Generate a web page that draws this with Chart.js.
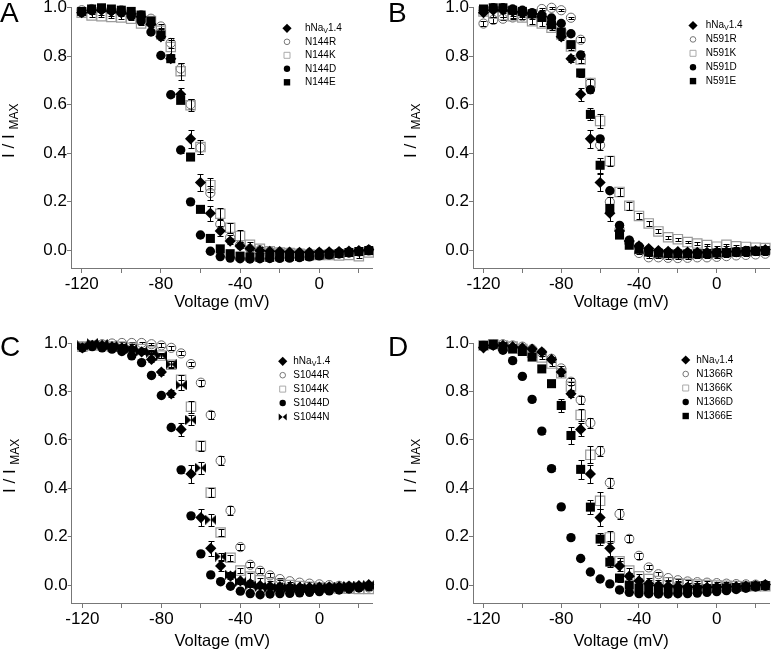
<!DOCTYPE html>
<html>
<head>
<meta charset="utf-8">
<script src="https://cdn.jsdelivr.net/npm/chart.js@4"></script>
<style>
  html, body { margin: 0; padding: 0; background: #fff; }
  #wrap { position: relative; width: 777px; height: 651px; overflow: hidden; }
  .panel { position: absolute; }
</style>
</head>
<body>
<div id="wrap">
  <div class="panel" style="left:0;top:0;width:388px;height:318px"><canvas id="cA"></canvas></div>
  <div class="panel" style="left:388px;top:0;width:389px;height:318px"><canvas id="cB"></canvas></div>
  <div class="panel" style="left:0;top:318px;width:388px;height:333px"><canvas id="cC"></canvas></div>
  <div class="panel" style="left:388px;top:318px;width:389px;height:333px"><canvas id="cD"></canvas></div>
</div>
<script>
// voltage steps (mV) shared by every series
const voltage = [-120,-115,-110,-105,-100,-95,-90,-85,-80,-75,-70,-65,-60,-55,-50,-45,-40,-35,-30,-25,-20,-15,-10,-5,0,5,10,15,20,25];
const xTickValues = [-120,-100,-80,-60,-40,-20,0,20];
const xTickLabels = ['-120','','-80','','-40','','0',''];
const yTickValues = [0,0.2,0.4,0.6,0.8,1.0];
const yTickLabels = ['0.0','0.2','0.4','0.6','0.8','1.0'];

// wild type, same in every panel
const hNav14    = [0.98,0.99,0.99,0.985,0.98,0.975,0.963,0.932,0.88,0.79,0.643,0.459,0.279,0.152,0.079,0.037,0.017,0.006,-0.002,-0.005,-0.006,-0.008,-0.009,-0.009,-0.008,-0.007,-0.006,-0.004,-0.002,0.002];
const hNav14Err = [0.005,0.004,0.004,0.004,0.005,0.006,0.008,0.01,0.012,0.015,0.027,0.037,0.036,0.03,0.02,0.012,0.01,0.006,0.005,0.005,0.005,0.005,0.005,0.005,0.005,0.005,0.005,0.005,0.005,0.005];

// panel A
const n144R    = [0.99,0.995,0.995,0.99,0.99,0.98,0.97,0.955,0.923,0.855,0.749,0.602,0.423,0.236,0.107,0.052,0.02,0.005,0.0,-0.005,-0.008,-0.01,-0.012,-0.012,-0.012,-0.012,-0.01,-0.008,-0.006,-0.002];
const n144RErr = [0.004,0.004,0.004,0.004,0.004,0.005,0.005,0.008,0.012,0.02,0.025,0.02,0.025,0.03,0.02,0.012,0.01,0.006,0.005,0.005,0.005,0.005,0.005,0.005,0.005,0.005,0.005,0.005,0.005,0.005];
const n144K    = [0.98,0.968,0.965,0.962,0.96,0.955,0.935,0.945,0.905,0.838,0.738,0.598,0.425,0.268,0.15,0.092,0.058,0.022,0.005,-0.005,-0.01,-0.012,-0.015,-0.018,-0.02,-0.02,-0.022,-0.02,-0.025,-0.01];
const n144KErr = [0.005,0.005,0.005,0.005,0.005,0.005,0.005,0.006,0.01,0.03,0.035,0.025,0.03,0.03,0.025,0.02,0.025,0.01,0.006,0.005,0.005,0.005,0.005,0.005,0.005,0.005,0.005,0.005,0.006,0.005];
const n144D    = [0.98,0.99,0.995,0.99,0.98,0.965,0.945,0.9,0.803,0.641,0.413,0.199,0.062,-0.005,-0.027,-0.033,-0.036,-0.037,-0.036,-0.035,-0.034,-0.033,-0.031,-0.028,-0.024,-0.02,-0.016,-0.012,-0.006,0.0];
const n144DErr = [0.005,0.005,0.005,0.005,0.005,0.005,0.005,0.006,0.008,0.01,0.012,0.008,0.006,0.005,0.005,0.005,0.005,0.005,0.005,0.005,0.005,0.005,0.005,0.005,0.005,0.005,0.005,0.005,0.005,0.005];
const n144E    = [0.985,0.995,1.0,0.995,0.99,0.985,0.97,0.945,0.888,0.79,0.618,0.384,0.168,0.048,0.005,-0.015,-0.025,-0.028,-0.03,-0.03,-0.028,-0.027,-0.026,-0.024,-0.02,-0.017,-0.014,-0.01,-0.006,-0.002];
const n144EErr = [0.005,0.005,0.005,0.005,0.005,0.005,0.005,0.006,0.008,0.01,0.012,0.012,0.01,0.006,0.005,0.005,0.005,0.005,0.005,0.005,0.005,0.005,0.005,0.005,0.005,0.005,0.005,0.005,0.005,0.005];

// panel B
const n591R    = [0.935,0.95,0.955,0.96,0.965,0.975,0.995,1.0,0.99,0.959,0.868,0.69,0.433,0.199,0.085,0.03,-0.012,-0.03,-0.03,-0.032,-0.033,-0.032,-0.03,-0.03,-0.028,-0.025,-0.022,-0.02,-0.018,-0.015];
const n591RErr = [0.01,0.012,0.006,0.005,0.005,0.005,0.004,0.004,0.004,0.005,0.01,0.015,0.02,0.02,0.01,0.008,0.005,0.004,0.004,0.004,0.004,0.004,0.004,0.004,0.004,0.004,0.004,0.004,0.004,0.004];
const n591K    = [0.985,0.975,0.97,0.965,0.96,0.945,0.935,0.918,0.89,0.84,0.787,0.69,0.533,0.368,0.24,0.183,0.141,0.11,0.077,0.053,0.045,0.033,0.027,0.021,0.014,0.022,0.016,0.013,0.01,0.008];
const n591KErr = [0.006,0.012,0.008,0.008,0.008,0.01,0.01,0.01,0.012,0.015,0.015,0.018,0.03,0.02,0.018,0.017,0.013,0.01,0.008,0.006,0.006,0.005,0.005,0.004,0.004,0.004,0.004,0.004,0.004,0.004];
const n591D    = [0.99,1.0,1.0,0.995,0.99,0.98,0.97,0.958,0.935,0.893,0.805,0.662,0.459,0.245,0.102,0.041,0.015,0.0,-0.008,-0.01,-0.012,-0.013,-0.014,-0.014,-0.013,-0.012,-0.01,-0.008,-0.005,-0.002];
const n591DErr = [0.005,0.005,0.005,0.005,0.005,0.005,0.005,0.006,0.008,0.01,0.015,0.015,0.012,0.01,0.008,0.005,0.005,0.005,0.005,0.005,0.005,0.005,0.005,0.005,0.005,0.005,0.005,0.005,0.005,0.005];
const n591E    = [0.995,1.0,1.0,0.99,0.985,0.975,0.96,0.93,0.9,0.848,0.731,0.56,0.35,0.172,0.062,0.02,0.003,-0.008,-0.013,-0.015,-0.016,-0.016,-0.015,-0.014,-0.012,-0.01,-0.008,-0.006,-0.004,-0.002];
const n591EErr = [0.005,0.005,0.005,0.005,0.005,0.005,0.005,0.006,0.01,0.012,0.015,0.025,0.03,0.02,0.01,0.006,0.005,0.005,0.005,0.005,0.005,0.005,0.005,0.005,0.005,0.005,0.005,0.005,0.005,0.005];

// panel C
const s1044R    = [0.985,0.99,0.995,0.998,1.0,1.0,1.0,0.995,0.99,0.98,0.957,0.913,0.836,0.703,0.514,0.308,0.157,0.084,0.059,0.04,0.025,0.016,0.01,0.006,0.003,0.0,-0.003,-0.006,-0.008,-0.01];
const s1044RErr = [0.004,0.004,0.004,0.004,0.004,0.004,0.004,0.005,0.008,0.008,0.008,0.01,0.012,0.015,0.02,0.02,0.012,0.01,0.01,0.008,0.006,0.005,0.005,0.005,0.005,0.005,0.005,0.005,0.005,0.005];
const s1044K    = [0.985,0.99,0.99,0.985,0.985,0.98,0.975,0.965,0.948,0.91,0.848,0.737,0.575,0.382,0.217,0.113,0.06,0.035,0.02,0.01,0.004,0.0,-0.004,-0.007,-0.01,-0.012,-0.014,-0.015,-0.016,-0.016];
const s1044KErr = [0.005,0.005,0.005,0.005,0.005,0.005,0.005,0.006,0.01,0.015,0.02,0.025,0.02,0.02,0.015,0.012,0.01,0.015,0.01,0.006,0.005,0.005,0.005,0.005,0.005,0.005,0.005,0.005,0.005,0.005];
const s1044D    = [0.98,0.985,0.98,0.975,0.965,0.947,0.919,0.866,0.783,0.651,0.476,0.286,0.129,0.042,0.014,-0.005,-0.025,-0.035,-0.04,-0.037,-0.035,-0.034,-0.032,-0.03,-0.027,-0.024,-0.02,-0.016,-0.012,-0.007];
const s1044DErr = [0.005,0.005,0.005,0.005,0.005,0.005,0.006,0.006,0.008,0.01,0.012,0.01,0.008,0.006,0.005,0.005,0.005,0.005,0.005,0.005,0.005,0.005,0.005,0.005,0.005,0.005,0.005,0.005,0.005,0.005];
const s1044N    = [0.99,1.0,0.995,0.99,0.985,0.975,0.965,0.96,0.948,0.912,0.826,0.682,0.484,0.27,0.118,0.043,0.012,-0.002,-0.008,-0.01,-0.012,-0.012,-0.012,-0.011,-0.01,-0.008,-0.006,-0.004,-0.002,0.0];
const s1044NErr = [0.005,0.005,0.005,0.005,0.005,0.005,0.005,0.006,0.008,0.012,0.02,0.02,0.025,0.025,0.015,0.01,0.006,0.005,0.005,0.005,0.005,0.005,0.005,0.005,0.005,0.005,0.005,0.005,0.005,0.005];

// panel D
const n1366R    = [0.99,0.995,0.995,0.99,0.985,0.975,0.96,0.935,0.895,0.84,0.765,0.67,0.554,0.423,0.294,0.191,0.121,0.073,0.045,0.029,0.02,0.015,0.012,0.01,0.008,0.006,0.004,0.003,0.002,0.001];
const n1366RErr = [0.004,0.004,0.004,0.004,0.004,0.005,0.005,0.008,0.01,0.015,0.015,0.02,0.02,0.02,0.02,0.015,0.012,0.008,0.008,0.006,0.005,0.005,0.005,0.005,0.005,0.005,0.005,0.005,0.005,0.005];
const n1366K    = [0.99,0.995,0.99,0.985,0.975,0.96,0.94,0.915,0.875,0.82,0.703,0.538,0.348,0.197,0.098,0.06,0.036,0.025,0.017,0.011,0.007,0.004,0.002,0.0,-0.002,-0.003,-0.004,-0.005,-0.005,-0.005];
const n1366KErr = [0.005,0.005,0.005,0.005,0.005,0.005,0.006,0.008,0.012,0.02,0.025,0.035,0.035,0.025,0.015,0.01,0.008,0.006,0.005,0.005,0.005,0.005,0.005,0.005,0.005,0.005,0.005,0.005,0.005,0.005];
const n1366D    = [0.985,0.99,0.97,0.927,0.862,0.767,0.636,0.481,0.323,0.196,0.11,0.054,0.025,0.005,-0.02,-0.03,-0.035,-0.036,-0.037,-0.037,-0.036,-0.035,-0.033,-0.03,-0.027,-0.023,-0.018,-0.013,-0.008,-0.004];
const n1366DErr = [0.005,0.005,0.006,0.008,0.008,0.01,0.01,0.01,0.01,0.008,0.006,0.005,0.005,0.005,0.005,0.005,0.005,0.005,0.005,0.005,0.005,0.005,0.005,0.005,0.005,0.005,0.005,0.005,0.005,0.005];
const n1366E    = [0.99,0.995,0.985,0.975,0.965,0.942,0.893,0.832,0.742,0.618,0.478,0.322,0.19,0.095,0.029,0.0,-0.012,-0.018,-0.02,-0.02,-0.02,-0.019,-0.018,-0.016,-0.014,-0.012,-0.01,-0.007,-0.004,-0.002];
const n1366EErr = [0.005,0.005,0.005,0.006,0.008,0.01,0.012,0.015,0.025,0.035,0.04,0.03,0.025,0.02,0.015,0.008,0.005,0.005,0.005,0.005,0.005,0.005,0.005,0.005,0.005,0.005,0.005,0.005,0.005,0.005];

const FONT = "'Liberation Sans', Arial, Helvetica, sans-serif";
Chart.defaults.font.family = FONT;
Chart.defaults.color = '#000';

function makeBowtie(w, h) {
  const c = document.createElement('canvas');
  c.width = w; c.height = h;
  const g = c.getContext('2d');
  g.fillStyle = '#000';
  g.beginPath();
  g.moveTo(0, 0); g.lineTo(w / 2, h / 2); g.lineTo(0, h); g.closePath();
  g.moveTo(w, 0); g.lineTo(w / 2, h / 2); g.lineTo(w, h); g.closePath();
  g.fill();
  return c;
}
const bowtieImg = makeBowtie(11, 10);

function markerStyle(kind) {
  switch (kind) {
    case 'diamond': return { pointStyle: 'rectRot', pointRadius: 5.6, backgroundColor: '#000', borderColor: '#000', borderWidth: 0 };
    case 'oCircle': return { pointStyle: 'circle', pointRadius: 4.6, backgroundColor: 'rgba(255,255,255,0)', borderColor: '#6a6a6a', borderWidth: 1 };
    case 'oSquare': return { pointStyle: 'rect', pointRadius: 6.6, backgroundColor: 'rgba(255,255,255,0)', borderColor: '#9a9a9a', borderWidth: 1.2 };
    case 'fCircle': return { pointStyle: 'circle', pointRadius: 4.7, backgroundColor: '#000', borderColor: '#000', borderWidth: 0 };
    case 'fSquare': return { pointStyle: 'rect', pointRadius: 6.4, backgroundColor: '#000', borderColor: '#000', borderWidth: 0 };
    case 'bowtie': return { pointStyle: bowtieImg, pointRadius: 5, backgroundColor: '#000', borderColor: '#000', borderWidth: 0 };
  }
}

// small legend symbols
function legendMarker(ctx, kind, x, y) {
  ctx.save();
  ctx.fillStyle = '#000';
  ctx.lineWidth = 1;
  ctx.beginPath();
  if (kind === 'diamond') {
    ctx.moveTo(x - 4.6, y); ctx.lineTo(x, y - 4.6); ctx.lineTo(x + 4.6, y); ctx.lineTo(x, y + 4.6); ctx.closePath(); ctx.fill();
  } else if (kind === 'oCircle') {
    ctx.strokeStyle = '#777'; ctx.arc(x, y, 2.8, 0, Math.PI * 2); ctx.stroke();
  } else if (kind === 'oSquare') {
    ctx.strokeStyle = '#aaa'; ctx.rect(x - 3, y - 3, 6, 6); ctx.stroke();
  } else if (kind === 'fCircle') {
    ctx.arc(x, y, 3.2, 0, Math.PI * 2); ctx.fill();
  } else if (kind === 'fSquare') {
    ctx.rect(x - 3.2, y - 3.2, 6.4, 6.4); ctx.fill();
  } else if (kind === 'bowtie') {
    ctx.moveTo(x - 4, y - 3.5); ctx.lineTo(x, y); ctx.lineTo(x - 4, y + 3.5); ctx.closePath();
    ctx.moveTo(x + 4, y - 3.5); ctx.lineTo(x, y); ctx.lineTo(x + 4, y + 3.5); ctx.closePath();
    ctx.fill();
  }
  ctx.restore();
}

const errorBarPlugin = {
  id: 'errorBars',
  afterDatasetDraw(chart, args) {
    const ds = chart.data.datasets[args.index];
    if (!ds.errors) return;
    const { ctx } = chart;
    const x = chart.scales.x, y = chart.scales.y;
    ctx.save();
    ctx.strokeStyle = '#000';
    ctx.lineWidth = 1;
    ds.data.forEach((p, i) => {
      const e = ds.errors[i];
      if (!e) return;
      const px = Math.round(x.getPixelForValue(p.x)) + 0.5;
      const y1 = Math.round(y.getPixelForValue(p.y + e)) + 0.5;
      const y2 = Math.round(y.getPixelForValue(p.y - e)) + 0.5;
      ctx.beginPath();
      ctx.moveTo(px, y1); ctx.lineTo(px, y2);
      ctx.moveTo(px - 3, y1); ctx.lineTo(px + 3, y1);
      ctx.moveTo(px - 3, y2); ctx.lineTo(px + 3, y2);
      ctx.stroke();
    });
    ctx.restore();
  }
};

const panels = [
  { id: 'cA', letter: 'A', axisW: 71, axisH: 50, padT: 7.3, padR: 15.3, titlePad: 6, letterY: 22,
    legend: { mx: 287, tx: 305, y0: 28.3, dy: 13.5 },
    series: [
      { name: 'N144R', kind: 'oCircle', values: n144R, errors: n144RErr, order: 4 },
      { name: 'N144K', kind: 'oSquare', values: n144K, errors: n144KErr, order: 3 },
      { name: 'N144D', kind: 'fCircle', values: n144D, errors: n144DErr, order: 2 },
      { name: 'N144E', kind: 'fSquare', values: n144E, errors: n144EErr, order: 1 } ] },
  { id: 'cB', letter: 'B', axisW: 85, axisH: 50, padT: 7.3, padR: 2.3, titlePad: 6, letterY: 22,
    legend: { mx: 305, tx: 317.7, y0: 25.5, dy: 13.9 },
    series: [
      { name: 'N591R', kind: 'oCircle', values: n591R, errors: n591RErr, order: 4 },
      { name: 'N591K', kind: 'oSquare', values: n591K, errors: n591KErr, order: 3 },
      { name: 'N591D', kind: 'fCircle', values: n591D, errors: n591DErr, order: 2 },
      { name: 'N591E', kind: 'fSquare', values: n591E, errors: n591EErr, order: 1 } ] },
  { id: 'cC', letter: 'C', axisW: 71.7, axisH: 48, padT: 25, padR: 15.3, titlePad: 0, letterY: 38.3,
    legend: { mx: 282.7, tx: 293.3, y0: 43.3, dy: 13.9 },
    series: [
      { name: 'S1044R', kind: 'oCircle', values: s1044R, errors: s1044RErr, order: 4 },
      { name: 'S1044K', kind: 'oSquare', values: s1044K, errors: s1044KErr, order: 3 },
      { name: 'S1044D', kind: 'fCircle', values: s1044D, errors: s1044DErr, order: 2 },
      { name: 'S1044N', kind: 'bowtie', values: s1044N, errors: s1044NErr, order: 1 } ] },
  { id: 'cD', letter: 'D', axisW: 85, axisH: 48, padT: 25, padR: 2.3, titlePad: 0, letterY: 38.3,
    legend: { mx: 297.7, tx: 308.3, y0: 42, dy: 14 },
    series: [
      { name: 'N1366R', kind: 'oCircle', values: n1366R, errors: n1366RErr, order: 4 },
      { name: 'N1366K', kind: 'oSquare', values: n1366K, errors: n1366KErr, order: 3 },
      { name: 'N1366D', kind: 'fCircle', values: n1366D, errors: n1366DErr, order: 2 },
      { name: 'N1366E', kind: 'fSquare', values: n1366E, errors: n1366EErr, order: 1 } ] }
];

function makePanel(p) {
  const all = [{ name: 'hNav1.4', kind: 'diamond', values: hNav14, errors: hNav14Err, order: 0 }].concat(p.series);
  const datasets = all.map(s => Object.assign({
    label: s.name,
    data: voltage.map((v, i) => ({ x: v, y: s.values[i] })),
    errors: s.errors,
    order: s.order,
    clip: false,
    showLine: false
  }, markerStyle(s.kind)));

  const decor = {
    id: 'decor',
    afterDraw(chart) {
      const { ctx, chartArea } = chart;
      ctx.save();
      ctx.fillStyle = '#000';
      // panel letter
      ctx.font = '28px ' + FONT;
      ctx.textBaseline = 'alphabetic';
      ctx.textAlign = 'left';
      ctx.fillText(p.letter, 0, p.letterY);
      // y title  I / I_MAX
      ctx.save();
      ctx.translate(chartArea.left - 57, (chartArea.top + chartArea.bottom) / 2 + 20);
      ctx.rotate(-Math.PI / 2);
      ctx.font = '17px ' + FONT;
      ctx.fillText('I / I', 0, 0);
      const w = ctx.measureText('I / I ').width;
      ctx.font = '12px ' + FONT;
      ctx.fillText('MAX', w, 4);
      ctx.restore();
      // legend
      const L = p.legend;
      all.forEach((s, i) => {
        const yy = L.y0 + i * L.dy;
        legendMarker(ctx, s.kind, L.mx, yy);
        ctx.textBaseline = 'middle';
        ctx.font = '10px ' + FONT;
        if (i === 0) {
          ctx.fillText('hNa', L.tx, yy);
          let xx = L.tx + ctx.measureText('hNa').width;
          ctx.font = '7px ' + FONT;
          ctx.fillText('V', xx, yy + 2.5);
          xx += ctx.measureText('V').width;
          ctx.font = '10px ' + FONT;
          ctx.fillText('1.4', xx, yy);
        } else {
          ctx.fillText(s.name, L.tx, yy);
        }
      });
      ctx.restore();
    }
  };

  new Chart(document.getElementById(p.id), {
    type: 'scatter',
    data: { datasets },
    options: {
      responsive: true,
      maintainAspectRatio: false,
      animation: false,
      events: [],
      layout: { padding: { top: p.padT, right: p.padR, left: 0, bottom: 0 } },
      plugins: { legend: { display: false }, tooltip: { enabled: false } },
      scales: {
        x: {
          type: 'linear',
          min: -125.4,
          max: 27,
          afterFit(s) { s.height = p.axisH; s.paddingLeft = 0; s.paddingRight = 0; },
          afterBuildTicks(s) { s.ticks = xTickValues.map(v => ({ value: v })); },
          ticks: { callback: (v, i) => xTickLabels[i], font: { size: 17 }, color: '#000', padding: 1, maxRotation: 0, autoSkip: false },
          grid: { drawOnChartArea: false, tickLength: 5, color: '#777' },
          border: { color: '#777', width: 1 },
          title: { display: true, text: 'Voltage (mV)', font: { size: 16.5 }, color: '#000', padding: { top: 0, bottom: p.titlePad } }
        },
        y: {
          type: 'linear',
          min: -0.074,
          max: 1.0,
          afterFit(s) { s.width = p.axisW; s.paddingTop = 0; s.paddingBottom = 0; },
          afterBuildTicks(s) { s.ticks = yTickValues.map(v => ({ value: v })); },
          ticks: { callback: (v, i) => yTickLabels[i], font: { size: 17 }, color: '#000', padding: 0, autoSkip: false },
          grid: { drawOnChartArea: false, tickLength: 4, color: '#777' },
          border: { color: '#777', width: 1 }
        }
      }
    },
    plugins: [errorBarPlugin, decor]
  });
}

panels.forEach(makePanel);
</script>
</body>
</html>
